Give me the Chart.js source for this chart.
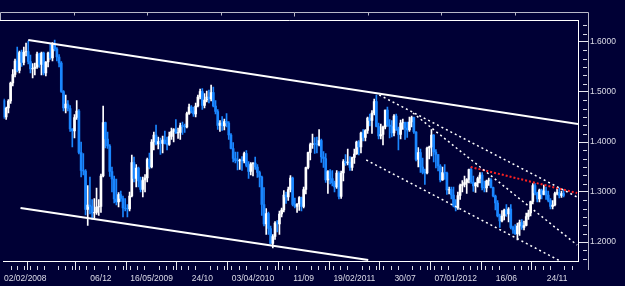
<!DOCTYPE html>
<html><head><meta charset="utf-8">
<script src="https://cdn.jsdelivr.net/npm/chart.js@4.4.1/dist/chart.umd.min.js"></script>
<style>html,body{margin:0;padding:0;background:#000035;overflow:hidden}canvas{display:block}</style>
</head><body>
<canvas id="c" width="625" height="286"></canvas>
<script>
// Weekly EUR/USD candles, week 0 = week of 02/02/2008
const opens = [
1.483,1.450,1.468,1.482,1.518,1.535,1.562,1.543,1.579,1.559,
1.580,1.581,1.561,1.546,1.547,1.550,1.576,1.555,1.578,1.538,
1.560,1.578,1.568,1.595,1.586,1.570,1.558,1.501,1.468,1.476,
1.467,1.426,1.422,1.449,1.462,1.379,1.343,1.342,1.265,1.274,
1.271,1.258,1.259,1.270,1.271,1.332,1.439,1.406,1.392,1.341,
1.326,1.286,1.280,1.295,1.287,1.268,1.267,1.266,1.292,1.359,
1.327,1.348,1.322,1.305,1.324,1.328,1.365,1.350,1.400,1.414,
1.396,1.401,1.397,1.404,1.397,1.395,1.411,1.421,1.425,1.418,
1.419,1.433,1.431,1.430,1.457,1.470,1.462,1.456,1.472,1.490,
1.501,1.473,1.484,1.490,1.486,1.499,1.472,1.461,1.433,1.438,
1.432,1.441,1.438,1.414,1.387,1.367,1.363,1.362,1.364,1.362,
1.377,1.353,1.341,1.356,1.358,1.350,1.339,1.330,1.275,1.236,
1.257,1.227,1.197,1.211,1.238,1.236,1.256,1.264,1.294,1.290,
1.305,1.328,1.275,1.271,1.276,1.289,1.271,1.305,1.349,1.379,
1.395,1.397,1.396,1.394,1.403,1.370,1.367,1.324,1.341,1.327,
1.318,1.310,1.338,1.291,1.338,1.361,1.358,1.360,1.349,1.369,
1.376,1.400,1.390,1.418,1.409,1.423,1.448,1.443,1.458,1.481,
1.431,1.412,1.415,1.430,1.464,1.434,1.431,1.418,1.452,1.426,
1.415,1.438,1.439,1.428,1.424,1.440,1.449,1.420,1.365,1.379,
1.350,1.339,1.338,1.388,1.390,1.414,1.380,1.375,1.352,1.324,
1.339,1.338,1.304,1.305,1.294,1.272,1.268,1.293,1.313,1.315,
1.319,1.325,1.345,1.320,1.312,1.318,1.327,1.334,1.309,1.308,
1.322,1.324,1.309,1.292,1.278,1.252,1.242,1.252,1.264,1.256,
1.266,1.229,1.224,1.216,1.232,1.239,1.229,1.233,1.251,1.258,
1.281,1.313,1.298,1.286,1.304,1.295,1.302,1.294,1.283,1.271,
1.274,1.297,1.299,1.293,1.297];
const highs = [
1.486,1.470,1.485,1.520,1.545,1.566,1.590,1.582,1.584,1.590,
1.598,1.602,1.574,1.557,1.558,1.580,1.578,1.580,1.580,1.561,
1.580,1.596,1.599,1.604,1.589,1.575,1.561,1.503,1.494,1.483,
1.473,1.427,1.455,1.483,1.465,1.400,1.377,1.345,1.313,1.330,
1.285,1.287,1.308,1.285,1.336,1.472,1.440,1.420,1.395,1.350,
1.332,1.326,1.299,1.302,1.292,1.287,1.275,1.300,1.374,1.370,
1.355,1.350,1.330,1.330,1.335,1.368,1.378,1.405,1.420,1.434,
1.410,1.408,1.412,1.422,1.410,1.420,1.428,1.427,1.445,1.428,
1.438,1.440,1.436,1.460,1.476,1.473,1.470,1.478,1.494,1.506,
1.507,1.497,1.502,1.504,1.514,1.510,1.483,1.465,1.443,1.451,
1.446,1.457,1.441,1.417,1.399,1.380,1.380,1.366,1.371,1.380,
1.383,1.361,1.359,1.359,1.370,1.355,1.342,1.332,1.309,1.267,
1.260,1.232,1.215,1.241,1.243,1.262,1.268,1.303,1.300,1.310,
1.333,1.330,1.288,1.277,1.291,1.290,1.310,1.350,1.380,1.398,
1.416,1.409,1.410,1.425,1.406,1.381,1.377,1.343,1.345,1.343,
1.322,1.343,1.341,1.342,1.365,1.375,1.386,1.371,1.370,1.386,
1.402,1.403,1.420,1.425,1.425,1.450,1.456,1.463,1.486,1.494,
1.438,1.436,1.432,1.464,1.470,1.445,1.443,1.455,1.456,1.430,
1.444,1.446,1.440,1.440,1.450,1.452,1.450,1.421,1.389,1.386,
1.368,1.346,1.390,1.392,1.425,1.415,1.385,1.375,1.355,1.350,
1.355,1.340,1.310,1.310,1.310,1.285,1.300,1.316,1.323,1.332,
1.327,1.346,1.349,1.332,1.319,1.330,1.339,1.339,1.322,1.324,
1.328,1.327,1.310,1.294,1.283,1.256,1.263,1.266,1.275,1.269,
1.275,1.232,1.235,1.238,1.244,1.245,1.242,1.258,1.264,1.282,
1.317,1.317,1.300,1.306,1.306,1.314,1.310,1.302,1.287,1.283,
1.300,1.308,1.308,1.302,1.304];
const lows = [
1.447,1.445,1.458,1.477,1.512,1.530,1.540,1.538,1.551,1.554,
1.572,1.556,1.538,1.528,1.534,1.547,1.549,1.534,1.534,1.532,
1.550,1.565,1.562,1.582,1.562,1.550,1.499,1.462,1.458,1.462,
1.421,1.390,1.408,1.445,1.376,1.330,1.334,1.254,1.233,1.256,
1.245,1.248,1.255,1.253,1.259,1.330,1.388,1.387,1.331,1.300,
1.278,1.274,1.270,1.281,1.250,1.262,1.250,1.262,1.290,1.320,
1.310,1.310,1.300,1.290,1.300,1.320,1.346,1.348,1.384,1.394,
1.386,1.375,1.378,1.396,1.384,1.393,1.405,1.400,1.417,1.407,
1.405,1.415,1.419,1.428,1.455,1.458,1.451,1.450,1.470,1.486,
1.465,1.468,1.480,1.478,1.482,1.470,1.456,1.425,1.421,1.423,
1.424,1.430,1.405,1.386,1.360,1.358,1.344,1.345,1.343,1.358,
1.350,1.327,1.334,1.332,1.345,1.329,1.310,1.253,1.232,1.215,
1.215,1.196,1.188,1.205,1.220,1.215,1.250,1.260,1.277,1.283,
1.300,1.272,1.268,1.259,1.263,1.262,1.268,1.296,1.346,1.364,
1.387,1.377,1.378,1.392,1.359,1.349,1.319,1.297,1.316,1.312,
1.300,1.307,1.286,1.287,1.322,1.353,1.354,1.343,1.343,1.357,
1.375,1.374,1.378,1.402,1.402,1.417,1.432,1.417,1.454,1.430,
1.406,1.406,1.394,1.426,1.431,1.408,1.410,1.412,1.423,1.384,
1.406,1.425,1.405,1.409,1.421,1.430,1.417,1.362,1.350,1.339,
1.336,1.315,1.336,1.366,1.372,1.360,1.348,1.342,1.320,1.323,
1.325,1.295,1.296,1.286,1.270,1.262,1.265,1.285,1.300,1.310,
1.297,1.318,1.317,1.301,1.299,1.310,1.318,1.304,1.300,1.300,
1.313,1.308,1.290,1.264,1.250,1.229,1.240,1.244,1.251,1.240,
1.226,1.217,1.215,1.204,1.213,1.225,1.224,1.232,1.245,1.252,
1.276,1.294,1.280,1.280,1.286,1.294,1.285,1.280,1.266,1.266,
1.272,1.294,1.288,1.289,1.290];
const closes = [
1.450,1.468,1.482,1.518,1.535,1.562,1.543,1.579,1.559,1.580,
1.581,1.561,1.546,1.547,1.550,1.576,1.555,1.578,1.538,1.560,
1.578,1.568,1.595,1.586,1.570,1.558,1.501,1.468,1.476,1.467,
1.426,1.422,1.449,1.462,1.379,1.343,1.342,1.265,1.274,1.271,
1.258,1.259,1.270,1.271,1.332,1.439,1.406,1.392,1.341,1.326,
1.286,1.280,1.295,1.287,1.268,1.267,1.266,1.292,1.359,1.327,
1.348,1.322,1.305,1.324,1.328,1.365,1.350,1.400,1.414,1.396,
1.401,1.397,1.404,1.397,1.395,1.411,1.421,1.425,1.418,1.419,
1.433,1.431,1.430,1.457,1.470,1.462,1.456,1.472,1.490,1.501,
1.473,1.484,1.490,1.486,1.499,1.472,1.461,1.433,1.438,1.432,
1.441,1.438,1.414,1.387,1.367,1.363,1.362,1.364,1.362,1.377,
1.353,1.341,1.356,1.358,1.350,1.339,1.330,1.275,1.236,1.257,
1.227,1.197,1.211,1.238,1.236,1.256,1.264,1.294,1.290,1.305,
1.328,1.275,1.271,1.276,1.289,1.271,1.305,1.349,1.379,1.395,
1.397,1.396,1.394,1.403,1.370,1.367,1.324,1.341,1.327,1.318,
1.310,1.338,1.291,1.338,1.361,1.358,1.360,1.349,1.369,1.376,
1.400,1.390,1.418,1.409,1.423,1.448,1.443,1.458,1.481,1.431,
1.412,1.415,1.430,1.464,1.434,1.431,1.418,1.452,1.426,1.415,
1.438,1.439,1.428,1.424,1.440,1.449,1.420,1.365,1.379,1.350,
1.339,1.338,1.388,1.390,1.414,1.380,1.375,1.352,1.324,1.339,
1.338,1.304,1.305,1.294,1.272,1.268,1.293,1.313,1.315,1.319,
1.325,1.345,1.320,1.312,1.318,1.327,1.334,1.309,1.308,1.322,
1.324,1.309,1.292,1.278,1.252,1.242,1.252,1.264,1.256,1.266,
1.229,1.224,1.216,1.232,1.239,1.229,1.233,1.251,1.258,1.281,
1.313,1.298,1.286,1.304,1.295,1.302,1.294,1.283,1.271,1.274,
1.297,1.299,1.293,1.297,1.293];

// x-axis ticks (week index) and their labels
const xTickWeeks = [0,21,44,67,90,113,136,159,182,205,228,251];
const xTickLabels = ['02/02/2008','','06/12','16/05/2009','24/10','03/04/2010','11/09','19/02/2011','30/07','07/01/2012','16/06','24/11'];
const yTickValues = [1.2,1.3,1.4,1.5,1.6];

// trend lines: [week, price]
const topTrend = [[11,1.604],[260.5,1.436]];
const bottomTrend = [[7.5,1.268],[165.3,1.164]];
const upperChannel = [[170.3,1.494],[260.1,1.290]];
const middleChannel = [[185.6,1.458],[260.1,1.194]];
const lowerChannel = [[164.4,1.364],[252.4,1.162]];
const redTrend = [[211.8,1.350],[260.1,1.298]];

const BG = '#000035';
const UP = '#ffffff';
const DOWN = '#1a86ff';
const LABEL = '#dcdce8';
const X_MIN = -0.2, X_MAX = 260.5;

const candleColor = ctx => closes[ctx.dataIndex] >= opens[ctx.dataIndex] ? UP : DOWN;
const pts = arr => arr.map(p => ({x: p[0], y: p[1]}));

function lineDs(arr, color, width, dash) {
  return {type: 'line', data: pts(arr), borderColor: color, borderWidth: width,
    borderDash: dash || [], pointRadius: 0, tension: 0, fill: false, order: 0, borderCapStyle: 'butt'};
}

const frame = {
  id: 'frame',
  beforeDraw(chart) {
    const c = chart.ctx; c.save(); c.fillStyle = BG; c.fillRect(0, 0, chart.width, chart.height); c.restore();
  },
  afterDraw(chart) {
    const c = chart.ctx, a = chart.chartArea, xs = chart.scales.x, ys = chart.scales.y;
    c.save();
    c.lineWidth = 1;
    c.strokeStyle = '#ffffff';
    c.beginPath(); c.moveTo(0, a.top + 0.5); c.lineTo(a.right + 0.5, a.top + 0.5); c.stroke();
    c.strokeStyle = '#b8b8c8';
    const ox = Math.round(a.right + 10) + 0.5, oy = Math.round(a.top - 8) + 0.5;
    c.beginPath(); c.moveTo(0.5, a.top); c.lineTo(0.5, oy); c.lineTo(ox, oy); c.lineTo(ox, a.bottom + 9); c.stroke();
    for (let k = 1; k < 8; k++) {
      const tx = Math.round(k * ox / 8) + 0.5;
      c.beginPath(); c.moveTo(tx, oy); c.lineTo(tx, oy + (k === 4 ? 4 : 3)); c.stroke();
    }
    // minor x ticks
    c.strokeStyle = '#d8d8e4';
    const minorX = [];
    for (let t = 0; t < xTickWeeks.length - 1; t++) {
      const w0 = xTickWeeks[t], w1 = xTickWeeks[t + 1];
      for (let j = 1; j < 7; j++) minorX.push(w0 + (w1 - w0) * j / 7);
    }
    const last = xTickWeeks[xTickWeeks.length - 1];
    for (let v = last + 23 / 7; v <= X_MAX; v += 23 / 7) minorX.push(v);
    minorX.forEach(v => {
      const px = Math.round(xs.getPixelForValue(v)) + 0.5;
      c.beginPath(); c.moveTo(px, a.bottom + 5); c.lineTo(px, a.bottom + 9); c.stroke();
    });
    // minor y ticks
    for (let k = Math.ceil(ys.min * 60); k / 60 <= ys.max; k++) {
      if (k % 6 === 0) continue;
      const py = Math.round(ys.getPixelForValue(k / 60)) + 0.5;
      c.beginPath(); c.moveTo(a.right + 5, py); c.lineTo(a.right + 9, py); c.stroke();
    }
    c.restore();
  }
};

new Chart(document.getElementById('c'), {
  type: 'bar',
  data: {
    datasets: [
      lineDs(topTrend, '#ffffff', 2),
      lineDs(bottomTrend, '#ffffff', 2),
      lineDs(upperChannel, '#ffffff', 1.5, [2, 3]),
      lineDs(middleChannel, '#ffffff', 1.5, [2, 3]),
      lineDs(lowerChannel, '#ffffff', 1.5, [2, 3]),
      lineDs(redTrend, '#ff2020', 2, [2, 2]),
      {type: 'bar', data: opens.map((o, i) => ({x: i, y: [o, closes[i]]})),
        backgroundColor: candleColor, barThickness: 2, grouped: false, order: 1, borderWidth: 0},
      {type: 'bar', data: lows.map((l, i) => ({x: i, y: [l, highs[i]]})),
        backgroundColor: candleColor, barThickness: 1, grouped: false, order: 2, borderWidth: 0}
    ]
  },
  options: {
    responsive: false, animation: false, events: [],
    layout: {padding: {top: 20, left: 0, right: 0, bottom: 0}, autoPadding: false},
    plugins: {legend: {display: false}, tooltip: {enabled: false}},
    scales: {
      x: {
        type: 'linear', min: X_MIN, max: X_MAX, offset: false, bounds: 'data', position: 'bottom',
        afterBuildTicks: s => { s.ticks = xTickWeeks.map(v => ({value: v})).concat([{value: X_MAX}]); },
        afterFit: s => { s.height = 25; },
        ticks: {autoSkip: false, maxRotation: 0, minRotation: 0, align: 'inner', padding: 4,
          color: LABEL, font: {family: 'Liberation Sans', size: 8.5},
          callback: (v, i) => i < xTickLabels.length ? xTickLabels[i] : ''},
        grid: {drawOnChartArea: false, drawTicks: true, tickLength: 9,
          color: ctx => ctx.index >= xTickWeeks.length ? 'rgba(0,0,0,0)' : '#e8e8f0'},
        border: {display: true, color: '#ffffff', width: 1}
      },
      y: {
        type: 'linear', position: 'right', min: 1.162, max: 1.644, bounds: 'data',
        afterBuildTicks: s => { s.ticks = yTickValues.map(v => ({value: v})); },
        afterFit: s => { s.width = 47; },
        ticks: {padding: 2, color: LABEL, font: {family: 'Liberation Sans', size: 8.5},
          callback: v => Number(v).toFixed(4)},
        grid: {drawOnChartArea: false, drawTicks: true, tickLength: 10, color: '#e8e8f0'},
        border: {display: true, color: '#ffffff', width: 1}
      }
    }
  },
  plugins: [frame]
});
</script>
</body></html>
